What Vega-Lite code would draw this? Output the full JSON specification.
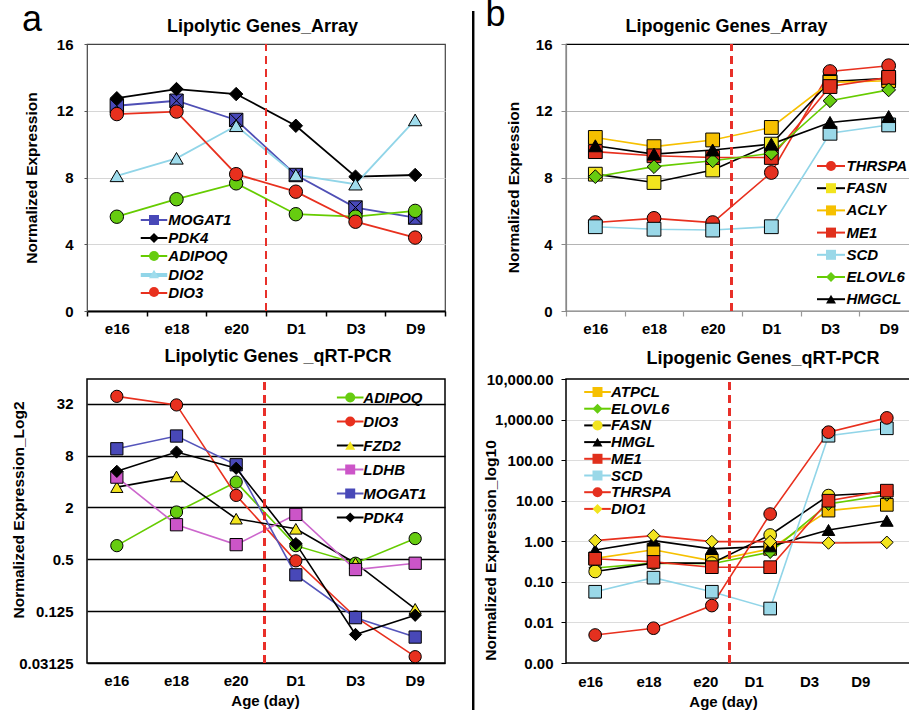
{
  "$schema": "https://vega.github.io/schema/vega-lite/v6.json",
  "padding": {"left": 10, "top": -5, "right": 0, "bottom": 0},
  "config": {
    "font": "Liberation Sans",
    "axis": {"labelFontSize": 15, "labelFontWeight": "bold", "labelColor": "black", "titleFontSize": 15.5, "titleFontWeight": "bold", "titleColor": "black"},
    "axisX": {"labelAngle": 0}
  },
  "resolve": {
    "scale": {"stroke": "independent", "fill": "independent", "shape": "independent"},
    "legend": {"stroke": "independent", "fill": "independent", "shape": "independent"}
  },
  "datasets": {
    "tl": [
      {"age": "e16", "gene": "MOGAT1", "value": 12.3}, {"age": "e18", "gene": "MOGAT1", "value": 12.6}, {"age": "e20", "gene": "MOGAT1", "value": 11.45}, {"age": "D1", "gene": "MOGAT1", "value": 8.15}, {"age": "D3", "gene": "MOGAT1", "value": 6.2}, {"age": "D9", "gene": "MOGAT1", "value": 5.6},
      {"age": "e16", "gene": "PDK4", "value": 12.75}, {"age": "e18", "gene": "PDK4", "value": 13.3}, {"age": "e20", "gene": "PDK4", "value": 13.0}, {"age": "D1", "gene": "PDK4", "value": 11.1}, {"age": "D3", "gene": "PDK4", "value": 8.05}, {"age": "D9", "gene": "PDK4", "value": 8.15},
      {"age": "e16", "gene": "ADIPOQ", "value": 5.65}, {"age": "e18", "gene": "ADIPOQ", "value": 6.7}, {"age": "e20", "gene": "ADIPOQ", "value": 7.65}, {"age": "D1", "gene": "ADIPOQ", "value": 5.8}, {"age": "D3", "gene": "ADIPOQ", "value": 5.65}, {"age": "D9", "gene": "ADIPOQ", "value": 6.0},
      {"age": "e16", "gene": "DIO2", "value": 8.1}, {"age": "e18", "gene": "DIO2", "value": 9.15}, {"age": "e20", "gene": "DIO2", "value": 11.1}, {"age": "D1", "gene": "DIO2", "value": 8.15}, {"age": "D3", "gene": "DIO2", "value": 7.6}, {"age": "D9", "gene": "DIO2", "value": 11.45},
      {"age": "e16", "gene": "DIO3", "value": 11.8}, {"age": "e18", "gene": "DIO3", "value": 11.95}, {"age": "e20", "gene": "DIO3", "value": 8.2}, {"age": "D1", "gene": "DIO3", "value": 7.15}, {"age": "D3", "gene": "DIO3", "value": 5.35}, {"age": "D9", "gene": "DIO3", "value": 4.4}
    ],
    "tr": [
      {"age": "e16", "gene": "THRSPA", "value": 5.3}, {"age": "e18", "gene": "THRSPA", "value": 5.55}, {"age": "e20", "gene": "THRSPA", "value": 5.3}, {"age": "D1", "gene": "THRSPA", "value": 8.3}, {"age": "D3", "gene": "THRSPA", "value": 14.35}, {"age": "D9", "gene": "THRSPA", "value": 14.7},
      {"age": "e16", "gene": "FASN", "value": 8.2}, {"age": "e18", "gene": "FASN", "value": 7.7}, {"age": "e20", "gene": "FASN", "value": 8.45}, {"age": "D1", "gene": "FASN", "value": 10.0}, {"age": "D3", "gene": "FASN", "value": 13.75}, {"age": "D9", "gene": "FASN", "value": 13.95},
      {"age": "e16", "gene": "ACLY", "value": 10.4}, {"age": "e18", "gene": "ACLY", "value": 9.85}, {"age": "e20", "gene": "ACLY", "value": 10.25}, {"age": "D1", "gene": "ACLY", "value": 11.0}, {"age": "D3", "gene": "ACLY", "value": 13.7}, {"age": "D9", "gene": "ACLY", "value": 13.8},
      {"age": "e16", "gene": "ME1", "value": 9.55}, {"age": "e18", "gene": "ME1", "value": 9.3}, {"age": "e20", "gene": "ME1", "value": 9.2}, {"age": "D1", "gene": "ME1", "value": 9.2}, {"age": "D3", "gene": "ME1", "value": 13.45}, {"age": "D9", "gene": "ME1", "value": 14.0},
      {"age": "e16", "gene": "SCD", "value": 5.05}, {"age": "e18", "gene": "SCD", "value": 4.9}, {"age": "e20", "gene": "SCD", "value": 4.85}, {"age": "D1", "gene": "SCD", "value": 5.05}, {"age": "D3", "gene": "SCD", "value": 10.65}, {"age": "D9", "gene": "SCD", "value": 11.15},
      {"age": "e16", "gene": "ELOVL6", "value": 8.05}, {"age": "e18", "gene": "ELOVL6", "value": 8.65}, {"age": "e20", "gene": "ELOVL6", "value": 9.0}, {"age": "D1", "gene": "ELOVL6", "value": 9.45}, {"age": "D3", "gene": "ELOVL6", "value": 12.6}, {"age": "D9", "gene": "ELOVL6", "value": 13.25},
      {"age": "e16", "gene": "HMGCL", "value": 9.9}, {"age": "e18", "gene": "HMGCL", "value": 9.4}, {"age": "e20", "gene": "HMGCL", "value": 9.65}, {"age": "D1", "gene": "HMGCL", "value": 10.0}, {"age": "D3", "gene": "HMGCL", "value": 11.3}, {"age": "D9", "gene": "HMGCL", "value": 11.65}
    ],
    "bl": [
      {"age": "e16", "gene": "ADIPOQ", "value": 0.72}, {"age": "e18", "gene": "ADIPOQ", "value": 1.77}, {"age": "e20", "gene": "ADIPOQ", "value": 3.94}, {"age": "D1", "gene": "ADIPOQ", "value": 0.72}, {"age": "D3", "gene": "ADIPOQ", "value": 0.45}, {"age": "D9", "gene": "ADIPOQ", "value": 0.87},
      {"age": "e16", "gene": "DIO3", "value": 39}, {"age": "e18", "gene": "DIO3", "value": 31}, {"age": "e20", "gene": "DIO3", "value": 2.76}, {"age": "D1", "gene": "DIO3", "value": 0.48}, {"age": "D3", "gene": "DIO3", "value": 0.107}, {"age": "D9", "gene": "DIO3", "value": 0.037},
      {"age": "e16", "gene": "FZD2", "value": 3.44}, {"age": "e18", "gene": "FZD2", "value": 4.58}, {"age": "e20", "gene": "FZD2", "value": 1.48}, {"age": "D1", "gene": "FZD2", "value": 1.13}, {"age": "D3", "gene": "FZD2", "value": 0.45}, {"age": "D9", "gene": "FZD2", "value": 0.133},
      {"age": "e16", "gene": "LDHB", "value": 4.5}, {"age": "e18", "gene": "LDHB", "value": 1.26}, {"age": "e20", "gene": "LDHB", "value": 0.74}, {"age": "D1", "gene": "LDHB", "value": 1.66}, {"age": "D3", "gene": "LDHB", "value": 0.38}, {"age": "D9", "gene": "LDHB", "value": 0.45},
      {"age": "e16", "gene": "MOGAT1", "value": 9.6}, {"age": "e18", "gene": "MOGAT1", "value": 13.5}, {"age": "e20", "gene": "MOGAT1", "value": 6.26}, {"age": "D1", "gene": "MOGAT1", "value": 0.33}, {"age": "D3", "gene": "MOGAT1", "value": 0.105}, {"age": "D9", "gene": "MOGAT1", "value": 0.0625},
      {"age": "e16", "gene": "PDK4", "value": 5.25}, {"age": "e18", "gene": "PDK4", "value": 8.8}, {"age": "e20", "gene": "PDK4", "value": 5.7}, {"age": "D1", "gene": "PDK4", "value": 0.76}, {"age": "D3", "gene": "PDK4", "value": 0.067}, {"age": "D9", "gene": "PDK4", "value": 0.112}
    ],
    "br": [
      {"age": "e16", "gene": "ATPCL", "value": 0.38}, {"age": "e18", "gene": "ATPCL", "value": 0.62}, {"age": "e20", "gene": "ATPCL", "value": 0.33}, {"age": "D1", "gene": "ATPCL", "value": 0.65}, {"age": "D3", "gene": "ATPCL", "value": 5.7}, {"age": "D9", "gene": "ATPCL", "value": 7.9},
      {"age": "e16", "gene": "ELOVL6", "value": 0.22}, {"age": "e18", "gene": "ELOVL6", "value": 0.29}, {"age": "e20", "gene": "ELOVL6", "value": 0.28}, {"age": "D1", "gene": "ELOVL6", "value": 0.54}, {"age": "D3", "gene": "ELOVL6", "value": 8.3}, {"age": "D9", "gene": "ELOVL6", "value": 13.9},
      {"age": "e16", "gene": "FASN", "value": 0.18}, {"age": "e18", "gene": "FASN", "value": 0.29}, {"age": "e20", "gene": "FASN", "value": 0.29}, {"age": "D1", "gene": "FASN", "value": 1.43}, {"age": "D3", "gene": "FASN", "value": 13.4}, {"age": "D9", "gene": "FASN", "value": 16},
      {"age": "e16", "gene": "HMGL", "value": 0.61}, {"age": "e18", "gene": "HMGL", "value": 1.04}, {"age": "e20", "gene": "HMGL", "value": 0.65}, {"age": "D1", "gene": "HMGL", "value": 0.75}, {"age": "D3", "gene": "HMGL", "value": 1.9}, {"age": "D9", "gene": "HMGL", "value": 3.2},
      {"age": "e16", "gene": "ME1", "value": 0.37}, {"age": "e18", "gene": "ME1", "value": 0.31}, {"age": "e20", "gene": "ME1", "value": 0.23}, {"age": "D1", "gene": "ME1", "value": 0.23}, {"age": "D3", "gene": "ME1", "value": 10}, {"age": "D9", "gene": "ME1", "value": 17.7},
      {"age": "e16", "gene": "SCD", "value": 0.057}, {"age": "e18", "gene": "SCD", "value": 0.127}, {"age": "e20", "gene": "SCD", "value": 0.057}, {"age": "D1", "gene": "SCD", "value": 0.022}, {"age": "D3", "gene": "SCD", "value": 400}, {"age": "D9", "gene": "SCD", "value": 610},
      {"age": "e16", "gene": "THRSPA", "value": 0.0049}, {"age": "e18", "gene": "THRSPA", "value": 0.0072}, {"age": "e20", "gene": "THRSPA", "value": 0.026}, {"age": "D1", "gene": "THRSPA", "value": 4.7}, {"age": "D3", "gene": "THRSPA", "value": 490}, {"age": "D9", "gene": "THRSPA", "value": 1100},
      {"age": "e16", "gene": "DIO1", "value": 1.04}, {"age": "e18", "gene": "DIO1", "value": 1.38}, {"age": "e20", "gene": "DIO1", "value": 0.98}, {"age": "D1", "gene": "DIO1", "value": 0.98}, {"age": "D3", "gene": "DIO1", "value": 0.91}, {"age": "D9", "gene": "DIO1", "value": 0.94}
    ]
  },
  "columns": 2,
  "spacing": {"row": 68, "column": 121},
  "bounds": "flush",
  "concat": [
    {
      "width": 358, "height": 267,
      "view": {"stroke": "#444", "strokeWidth": 1.2},
      "title": {"text": "a", "orient": "top", "anchor": "start", "frame": "bounds", "fontSize": 36, "fontWeight": "normal", "baseline": "alphabetic", "offset": -50.4, "dx": -2, "color": "black"},
      "data": {"name": "tl"},
      "resolve": {"axis": {"x": "independent"}},
      "layer": [
        {
          "mark": {"type": "line", "strokeWidth": 1.8},
          "encoding": {
            "x": {"field": "age", "type": "nominal", "scale": {"type": "band", "domain": ["e16", "e18", "e20", "D1", "D3", "D9"], "paddingInner": 0, "paddingOuter": 0},
                  "axis": {"title": null, "orient": "bottom", "tickBand": "extent", "domainColor": "black", "domainWidth": 2, "tickColor": "black", "tickWidth": 1.5, "tickSize": 5, "labelPadding": 5, "grid": false}},
            "y": {"field": "value", "type": "quantitative", "scale": {"domain": [0, 16], "nice": false, "zero": false},
                  "axis": {"title": "Normalized Expression", "titleX": -56, "titleY": 133.5, "titleAngle": -90, "titleAlign": "center", "titleBaseline": "middle", "values": [0, 4, 8, 12, 16], "domainColor": "#555", "tickColor": "#555", "tickSize": 3, "labelPadding": 11, "grid": true, "gridColor": "#d6d6d6", "gridWidth": 1, "gridOpacity": {"condition": {"test": "datum.value === 0 || datum.value === 16", "value": 0}, "value": 1}}},
            "stroke": {"field": "gene", "type": "nominal", "sort": null, "scale": {"range": ["#4f4fb5", "#000000", "#66cc00", "#91d5e8", "#e8301e"]},
                       "legend": {"title": null, "orient": "none", "legendX": 59.5, "legendY": 168.5, "padding": 0, "symbolType": "M-2.65,0H2.65", "symbolSize": 100, "symbolStrokeWidth": 2, "labelFontSize": 15, "labelFontWeight": "bold", "labelFontStyle": "italic", "labelColor": "black", "labelOffset": 6.8, "rowPadding": 2,
                                  "encode": {"symbols": {"update": {"strokeWidth": {"signal": "datum.value === 'DIO2' ? 4 : 2"}}}}}},
            "strokeWidth": {"condition": {"test": "datum.gene === 'DIO2'", "value": 4}, "value": 1.8}
          }
        },
        {
          "mark": {"type": "point", "filled": true, "size": 180, "stroke": "black", "strokeWidth": 1, "opacity": 1},
          "encoding": {
            "x": {"field": "age", "type": "nominal", "axis": null},
            "y": {"field": "value", "type": "quantitative"},
            "fill": {"field": "gene", "type": "nominal", "scale": {"domain": ["MOGAT1", "PDK4", "ADIPOQ", "DIO2", "DIO3"], "range": ["#4848b8", "#000000", "#66cc10", "#9fdcec", "#e8301e"]},
                     "legend": {"title": null, "orient": "none", "legendX": 59.5, "legendY": 168.5, "padding": 0, "symbolSize": 100, "symbolStrokeColor": "black", "symbolStrokeWidth": 1, "labelFontSize": 15, "labelFontWeight": "bold", "labelFontStyle": "italic", "labelOpacity": 0, "labelOffset": 6.8, "rowPadding": 2}},
            "shape": {"field": "gene", "type": "nominal", "scale": {"domain": ["MOGAT1", "PDK4", "ADIPOQ", "DIO2", "DIO3"], "range": ["M-1,-1H1V1H-1ZM-1,-1L1,1M1,-1L-1,1", "M0,-1L1,0L0,1L-1,0Z", "circle", "triangle-up", "circle"]},
                      "legend": {"title": null, "orient": "none", "legendX": 59.5, "legendY": 168.5, "padding": 0, "symbolSize": 100, "symbolStrokeColor": "black", "symbolStrokeWidth": 1, "labelFontSize": 15, "labelFontWeight": "bold", "labelFontStyle": "italic", "labelOpacity": 0, "labelOffset": 6.8, "rowPadding": 2}}
          }
        },
        {
          "mark": {"type": "rule", "color": "#e8302a", "strokeDash": [8, 5], "strokeWidth": 2},
          "encoding": {
            "x": {"datum": "e20", "bandPosition": 1, "axis": {"orient": "top", "title": "Lipolytic Genes_Array", "titleX": 175, "titleY": -13, "titleAlign": "center", "titleBaseline": "alphabetic", "titleFontSize": 18, "labels": false, "ticks": false, "domain": false, "grid": false}},
            "y": {"datum": 0},
            "y2": {"datum": 16}
          }
        }
      ]
    },
    {
      "width": 352, "height": 267,
      "view": {"stroke": "black", "strokeWidth": 1.2},
      "title": {"text": "b", "orient": "top", "anchor": "start", "frame": "bounds", "fontSize": 36, "fontWeight": "normal", "baseline": "alphabetic", "offset": -51.6, "dx": 13.5, "color": "black"},
      "data": {"name": "tr"},
      "resolve": {"axis": {"x": "independent"}},
      "layer": [
        {
          "mark": {"type": "line", "strokeWidth": 1.6},
          "encoding": {
            "x": {"field": "age", "type": "nominal", "scale": {"type": "band", "domain": ["e16", "e18", "e20", "D1", "D3", "D9"], "paddingInner": 0, "paddingOuter": 0},
                  "axis": {"title": null, "orient": "bottom", "tickBand": "extent", "domainColor": "#999", "domainWidth": 1.2, "tickColor": "#999", "tickWidth": 1.2, "tickSize": 5, "labelPadding": 5, "grid": false}},
            "y": {"field": "value", "type": "quantitative", "scale": {"domain": [0, 16], "nice": false, "zero": false},
                  "axis": {"title": "Normalized Expression", "titleX": -53, "titleY": 143, "titleAngle": -90, "titleAlign": "center", "titleBaseline": "middle", "values": [0, 4, 8, 12, 16], "domainColor": "#888", "domainWidth": 1.2, "tickColor": "#888", "tickSize": 5, "labelPadding": 9, "grid": true, "gridColor": "#b4b4b4", "gridWidth": 1, "gridOpacity": {"condition": {"test": "datum.value === 0 || datum.value === 16", "value": 0}, "value": 1}}},
            "stroke": {"field": "gene", "type": "nominal", "sort": null, "scale": {"range": ["#e8301e", "#000000", "#f6c000", "#e8301e", "#91d5e8", "#66cc00", "#000000"]},
                       "legend": {"title": null, "orient": "none", "legendX": 257.5, "legendY": 114.5, "padding": 0, "symbolType": "M-2.8,0H2.8", "symbolSize": 100, "symbolStrokeWidth": 2, "labelFontSize": 15, "labelFontWeight": "bold", "labelFontStyle": "italic", "labelColor": "black", "labelOffset": 8, "rowPadding": 6.2}}
          }
        },
        {
          "mark": {"type": "point", "filled": true, "size": 190, "stroke": "black", "strokeWidth": 1, "opacity": 1},
          "encoding": {
            "x": {"field": "age", "type": "nominal", "axis": null},
            "y": {"field": "value", "type": "quantitative"},
            "fill": {"field": "gene", "type": "nominal", "scale": {"domain": ["THRSPA", "FASN", "ACLY", "ME1", "SCD", "ELOVL6", "HMGCL"], "range": ["#e5301f", "#f2e41e", "#f6c000", "#e0301c", "#9ad8e8", "#66cc10", "#000000"]},
                     "legend": {"title": null, "orient": "none", "legendX": 257.5, "legendY": 114.5, "padding": 0, "symbolSize": 100, "symbolStrokeColor": "black", "symbolStrokeWidth": 1, "labelFontSize": 15, "labelFontWeight": "bold", "labelFontStyle": "italic", "labelOpacity": 0, "labelOffset": 8, "rowPadding": 6.2}},
            "shape": {"field": "gene", "type": "nominal", "scale": {"domain": ["THRSPA", "FASN", "ACLY", "ME1", "SCD", "ELOVL6", "HMGCL"], "range": ["circle", "square", "square", "square", "square", "M0,-1L1,0L0,1L-1,0Z", "triangle-up"]},
                      "legend": {"title": null, "orient": "none", "legendX": 257.5, "legendY": 114.5, "padding": 0, "symbolSize": 100, "symbolStrokeColor": "black", "symbolStrokeWidth": 1, "labelFontSize": 15, "labelFontWeight": "bold", "labelFontStyle": "italic", "labelOpacity": 0, "labelOffset": 8, "rowPadding": 6.2}}
          }
        },
        {
          "mark": {"type": "rule", "color": "#e8302a", "strokeDash": [8, 5], "strokeWidth": 2},
          "encoding": {
            "x": {"datum": "e20", "bandPosition": 0.82, "axis": {"orient": "top", "title": "Lipogenic Genes_Array", "titleX": 160, "titleY": -13, "titleAlign": "center", "titleBaseline": "alphabetic", "titleFontSize": 18, "labels": false, "ticks": false, "domain": false, "grid": false}},
            "y": {"datum": 0},
            "y2": {"datum": 16}
          }
        },
        {
          "mark": {"type": "rule", "color": "black", "strokeWidth": 2},
          "encoding": {
            "x": {"datum": "e16", "bandPosition": -1.585, "axis": null},
            "y": {"datum": -24.2},
            "y2": {"datum": 17.98}
          }
        }
      ]
    },
    {
      "width": 358, "height": 284,
      "view": {"stroke": "black", "strokeWidth": 1.5},
      "title": {"text": "Lipolytic Genes _qRT-PCR", "fontSize": 18, "fontWeight": "bold", "frame": "group", "anchor": "middle", "dx": 12, "offset": -1.5, "baseline": "alphabetic", "color": "black"},
      "data": {"name": "bl"},
      "layer": [
        {
          "mark": {"type": "line", "strokeWidth": 1.6},
          "encoding": {
            "x": {"field": "age", "type": "nominal", "scale": {"type": "band", "domain": ["e16", "e18", "e20", "D1", "D3", "D9"], "paddingInner": 0, "paddingOuter": 0},
                  "axis": {"title": "Age (day)", "titleX": 178, "titleY": 37, "titleAlign": "center", "titleBaseline": "middle", "titleFontSize": 15, "domain": false, "ticks": false, "labelPadding": 10, "grid": false}},
            "y": {"field": "value", "type": "quantitative", "scale": {"type": "log", "base": 2, "domain": [0.03125, 62], "nice": false},
                  "axis": {"title": "Normalized Expression_Log2", "titleX": -69, "titleY": 130.5, "titleAngle": -90, "titleAlign": "center", "titleBaseline": "middle", "values": [0.03125, 0.125, 0.5, 2, 8, 32], "labelExpr": "'' + datum.value", "domain": false, "ticks": false, "labelPadding": 14, "grid": true, "gridColor": "black", "gridWidth": 1.5}},
            "stroke": {"field": "gene", "type": "nominal", "sort": null, "scale": {"range": ["#66cc00", "#e8301e", "#000000", "#cc66cc", "#5555bb", "#000000"]},
                       "legend": {"title": null, "orient": "none", "legendX": 255.7, "legendY": 11, "padding": 0, "symbolType": "M-2.66,0H2.66", "symbolSize": 100, "symbolStrokeWidth": 2, "labelFontSize": 15, "labelFontWeight": "bold", "labelFontStyle": "italic", "labelColor": "black", "labelOffset": 5.6, "rowPadding": 8}}
          }
        },
        {
          "mark": {"type": "point", "filled": true, "size": 150, "stroke": "black", "strokeWidth": 1, "opacity": 1},
          "encoding": {
            "x": {"field": "age", "type": "nominal"},
            "y": {"field": "value", "type": "quantitative"},
            "fill": {"field": "gene", "type": "nominal", "scale": {"domain": ["ADIPOQ", "DIO3", "FZD2", "LDHB", "MOGAT1", "PDK4"], "range": ["#66cc10", "#e8301e", "#f2e41e", "#cc55c8", "#4848b8", "#000000"]},
                     "legend": {"title": null, "orient": "none", "legendX": 255.7, "legendY": 11, "padding": 0, "symbolSize": 100, "symbolStrokeColor": "black", "symbolStrokeWidth": 1, "labelFontSize": 15, "labelFontWeight": "bold", "labelFontStyle": "italic", "labelOpacity": 0, "labelOffset": 5.6, "rowPadding": 8}},
            "shape": {"field": "gene", "type": "nominal", "scale": {"domain": ["ADIPOQ", "DIO3", "FZD2", "LDHB", "MOGAT1", "PDK4"], "range": ["circle", "circle", "triangle-up", "square", "square", "M0,-1L1,0L0,1L-1,0Z"]},
                      "legend": {"title": null, "orient": "none", "legendX": 255.7, "legendY": 11, "padding": 0, "symbolSize": 100, "symbolStrokeColor": "black", "symbolStrokeWidth": 1, "labelFontSize": 15, "labelFontWeight": "bold", "labelFontStyle": "italic", "labelOpacity": 0, "labelOffset": 5.6, "rowPadding": 8}}
          }
        },
        {
          "mark": {"type": "rule", "color": "#e8302a", "strokeDash": [8, 5], "strokeWidth": 2},
          "encoding": {
            "x": {"datum": "e20", "bandPosition": 0.98},
            "y": {"datum": 0.03125},
            "y2": {"datum": 62}
          }
        }
      ]
    },
    {
      "width": 350, "height": 284,
      "view": {"stroke": "black", "strokeWidth": 1.5},
      "title": {"text": "Lipogenic Genes_qRT-PCR", "fontSize": 18, "fontWeight": "bold", "frame": "group", "anchor": "middle", "dx": 22, "offset": -10.3, "baseline": "alphabetic", "color": "black"},
      "data": {"name": "br"},
      "layer": [
        {
          "mark": {"type": "line", "strokeWidth": 1.6},
          "encoding": {
            "x": {"field": "age", "type": "nominal", "scale": {"type": "band", "domain": ["e16", "e18", "e20", "D1", "D3", "D9"], "paddingInner": 0, "paddingOuter": 0},
                  "axis": {"title": "Age (day)", "titleX": 157, "titleY": 38, "titleAlign": "center", "titleBaseline": "middle", "titleFontSize": 15, "domain": false, "ticks": false, "labelPadding": 11, "grid": false,
                           "labelOffset": {"expr": "datum.value === 'D1' ? -16 : datum.value === 'D3' ? -19 : datum.value === 'D9' ? -26 : datum.value === 'e20' ? -6 : -4.5"}}},
            "y": {"field": "value", "type": "quantitative", "scale": {"type": "log", "domain": [0.001, 10000], "nice": false},
                  "axis": {"title": "Normalized Expression_log10", "titleX": -76, "titleY": 171, "titleAngle": -90, "titleAlign": "center", "titleBaseline": "middle", "values": [0.001, 0.01, 0.1, 1, 10, 100, 1000, 10000], "format": ",.2f", "domain": false, "tickColor": "black", "tickSize": 5, "labelPadding": 8, "grid": true, "gridColor": "#dcdcdc", "gridWidth": 1.2, "gridOpacity": {"condition": {"test": "datum.value > 5000 || datum.value < 0.002", "value": 0}, "value": 1}}},
            "stroke": {"field": "gene", "type": "nominal", "sort": null, "scale": {"range": ["#f6c000", "#66cc00", "#000000", "#000000", "#e8301e", "#91d5e8", "#e8301e", "#e8301e"]},
                       "legend": {"title": null, "orient": "none", "legendX": 24, "legendY": 5.5, "padding": 0, "symbolType": "M-2.66,0H2.66", "symbolSize": 100, "symbolStrokeWidth": 2, "labelFontSize": 15, "labelFontWeight": "bold", "labelFontStyle": "italic", "labelColor": "black", "labelOffset": 6, "rowPadding": 0.7}}
          }
        },
        {
          "mark": {"type": "point", "filled": true, "size": 160, "stroke": "black", "strokeWidth": 1, "opacity": 1},
          "encoding": {
            "x": {"field": "age", "type": "nominal"},
            "y": {"field": "value", "type": "quantitative"},
            "fill": {"field": "gene", "type": "nominal", "scale": {"domain": ["ATPCL", "ELOVL6", "FASN", "HMGL", "ME1", "SCD", "THRSPA", "DIO1"], "range": ["#f6c000", "#66cc10", "#f2e41e", "#000000", "#e0301c", "#9ad8e8", "#e5301f", "#f2e41e"]},
                     "legend": {"title": null, "orient": "none", "legendX": 24, "legendY": 5.5, "padding": 0, "symbolSize": 100, "symbolStrokeColor": "black", "symbolStrokeWidth": 1, "labelFontSize": 15, "labelFontWeight": "bold", "labelFontStyle": "italic", "labelOpacity": 0, "labelOffset": 6, "rowPadding": 0.7}},
            "shape": {"field": "gene", "type": "nominal", "scale": {"domain": ["ATPCL", "ELOVL6", "FASN", "HMGL", "ME1", "SCD", "THRSPA", "DIO1"], "range": ["square", "M0,-1L1,0L0,1L-1,0Z", "circle", "triangle-up", "square", "square", "circle", "M0,-1L1,0L0,1L-1,0Z"]},
                      "legend": {"title": null, "orient": "none", "legendX": 24, "legendY": 5.5, "padding": 0, "symbolSize": 100, "symbolStrokeColor": "black", "symbolStrokeWidth": 1, "labelFontSize": 15, "labelFontWeight": "bold", "labelFontStyle": "italic", "labelOpacity": 0, "labelOffset": 6, "rowPadding": 0.7}}
          }
        },
        {
          "mark": {"type": "rule", "color": "#e8302a", "strokeDash": [8, 5], "strokeWidth": 2},
          "encoding": {
            "x": {"datum": "e20", "bandPosition": 0.8},
            "y": {"datum": 0.001},
            "y2": {"datum": 10000}
          }
        }
      ]
    }
  ]
}
